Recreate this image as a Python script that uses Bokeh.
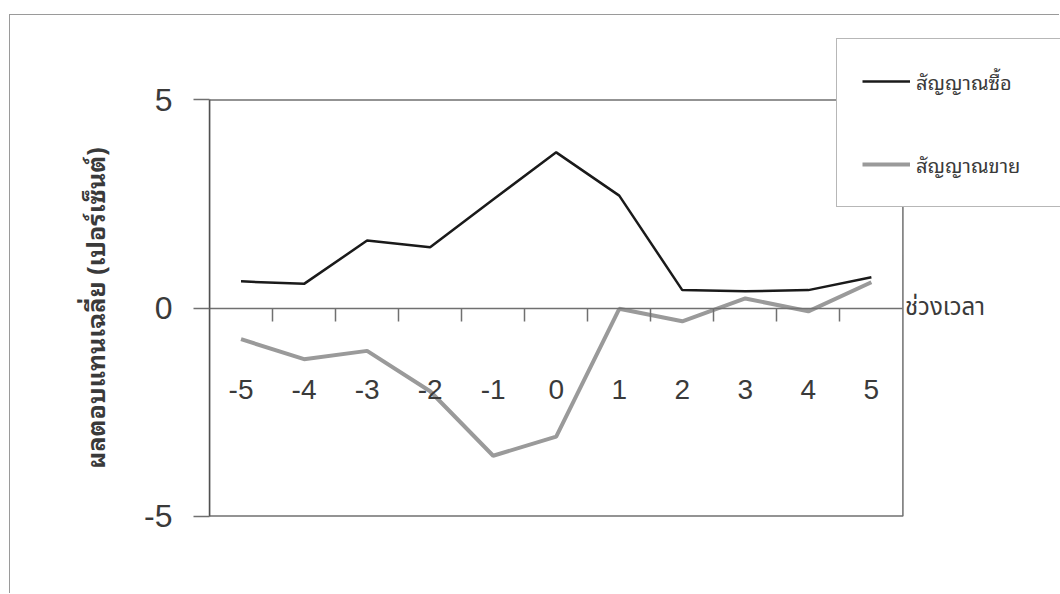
from bokeh.plotting import figure
from bokeh.models import Range1d, FixedTicker, LinearAxis, Legend, LegendItem, Label
from bokeh.core.properties import value
from bokeh.embed import file_html
from bokeh.resources import INLINE

# ---- data ----
periods = [-5, -4, -3, -2, -1, 0, 1, 2, 3, 4, 5]
period_labels = [str(v) for v in periods]
buy_signal = [0.64, 0.58, 1.62, 1.46, 2.61, 3.74, 2.70, 0.43, 0.40, 0.43, 0.74]
sell_signal = [-0.75, -1.23, -1.03, -2.00, -3.55, -3.09, -0.02, -0.32, 0.23, -0.08, 0.62]
y_ticks = [-5, 0, 5]
series_names = ["สัญญาณซื้อ", "สัญญาณขาย"]
y_title = "ผลตอบแทนเฉลี่ย (เปอร์เซ็นต์)"
x_title = "ช่วงเวลา"

LAT = "Liberation Sans, Arial, sans-serif"
THAI = "Noto Sans Thai Looped, Noto Sans Thai, Loma, Garuda, Tahoma, sans-serif"
THAI_PLAIN = "Noto Sans Thai, Loma, Tahoma, sans-serif"
TXT = "#3a3a3a"
GRID = "#707070"

# plot-area limits (category axis spans half a step beyond first/last period)
x_lo, x_hi = periods[0] - 0.5, periods[-1] + 0.5
y_lo, y_hi = y_ticks[0], y_ticks[-1]

# the frame is larger than the plot area so the legend and axis title can sit outside it
p = figure(width=1050, height=579,
           x_range=Range1d(x_lo, 8.0), y_range=Range1d(-6.5, 6.5),
           output_backend="svg", toolbar_location=None,
           x_axis_location=None, y_axis_location=None,
           min_border_left=199, min_border_top=22,
           min_border_right=0, min_border_bottom=16)
p.margin = (14, 0, 0, 9)
p.styles = {"border-left": "1px solid #9a9a9a", "border-top": "1px solid #9a9a9a"}
p.grid.visible = False
p.outline_line_color = None
p.background_fill_color = "white"
p.border_fill_color = "white"

# plot-area border
p.quad(left=[x_lo], right=[x_hi], bottom=[y_lo], top=[y_hi],
       fill_color=None, line_color=GRID, line_width=1.5)

# y axis
yaxis = LinearAxis(ticker=FixedTicker(ticks=y_ticks, minor_ticks=[]),
                   bounds=(y_lo, y_hi),
                   major_label_overrides={t: str(t) for t in y_ticks},
                   major_tick_out=16, major_tick_in=0,
                   minor_tick_out=0, minor_tick_in=0,
                   axis_line_color="#505050", axis_line_width=1.5,
                   major_tick_line_color=GRID, major_tick_line_width=1.5,
                   major_label_text_font=LAT, major_label_text_font_size="32px",
                   major_label_text_color=TXT, major_label_standoff=21,
                   axis_label=y_title, axis_label_text_font=THAI,
                   axis_label_text_font_style="bold", axis_label_text_font_size="25px",
                   axis_label_text_color=TXT, axis_label_standoff=27)
p.add_layout(yaxis, "left")

# x axis at y = 0, tick marks between categories
between = [(a + b) / 2 for a, b in zip(periods[:-1], periods[1:])]
xaxis = LinearAxis(fixed_location=0, bounds=(x_lo, x_hi),
                   ticker=FixedTicker(ticks=[], minor_ticks=between),
                   major_tick_out=0, major_tick_in=0,
                   minor_tick_out=13, minor_tick_in=0,
                   minor_tick_line_color=GRID, minor_tick_line_width=1.5,
                   axis_line_color=GRID, axis_line_width=1.5,
                   major_label_standoff=0,
                   major_label_text_font_size="0px")
p.add_layout(xaxis, "below")

# series
r_buy = p.line(periods, buy_signal, line_color="#1a1a1a", line_width=2.5)
r_sell = p.line(periods, sell_signal, line_color="#9a9a9a", line_width=4)

# category labels
p.text(x=periods, y=[-1.95] * len(periods), text=period_labels,
       text_align="center", text_baseline="middle",
       text_font=value(LAT), text_font_size="28px", text_color=TXT)

# x-axis title at right end of the axis
p.add_layout(Label(x=x_hi, y=0, x_offset=2, text=x_title,
                   text_align="left", text_baseline="middle",
                   text_font=THAI_PLAIN, text_font_size="24px", text_color=TXT))

legend = Legend(items=[LegendItem(label=series_names[0], renderers=[r_buy]),
                       LegendItem(label=series_names[1], renderers=[r_sell])],
                location=(627, 371), padding=25, spacing=49,
                glyph_width=48, glyph_height=34, label_height=34, label_width=220,
                label_standoff=6, border_line_color=GRID, border_line_width=1.5,
                background_fill_color="white", background_fill_alpha=1.0,
                label_text_font=THAI, label_text_font_size="20px",
                label_text_color=TXT)
p.add_layout(legend)

open("out.html", "w").write(file_html(p, INLINE))
